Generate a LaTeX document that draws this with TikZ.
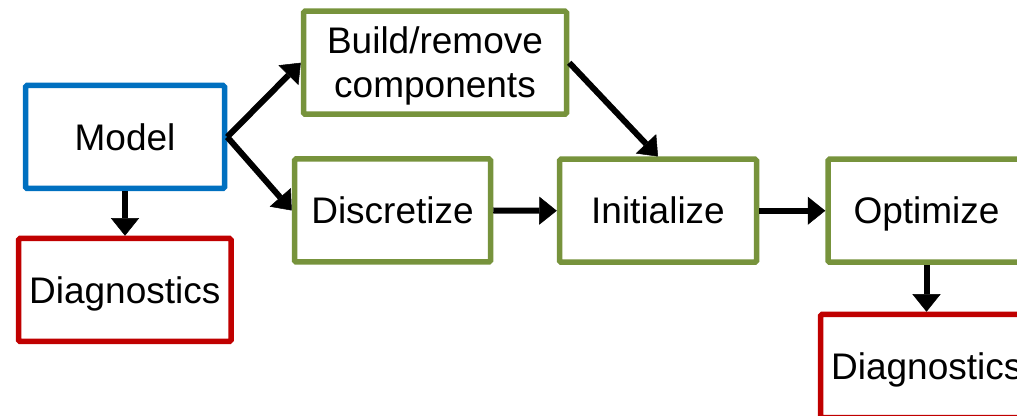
\documentclass[tikz,border=0pt]{standalone}
\usepackage{fontspec}
\setmainfont{Liberation Sans}
\usetikzlibrary{arrows.meta}
\definecolor{modelblue}{HTML}{0070C0}
\definecolor{stepgreen}{HTML}{77933C}
\definecolor{diagred}{HTML}{C00000}
\begin{document}
\begin{tikzpicture}[x=1pt,y=1pt,
  box/.style={draw, line width=5.5pt, rounded corners=1.5pt, inner sep=0pt,
    minimum height=103pt, fill=white,
    font=\fontsize{37pt}{44pt}\selectfont, text height=26.5pt, text depth=0pt},
  modelbox/.style={box, draw=modelblue},
  stepbox/.style={box, draw=stepgreen},
  diagbox/.style={box, draw=diagred},
  flow/.style={line width=6pt, -{Triangle[length=17.5pt,width=28pt,line width=0.5pt]}}
]
\useasboundingbox (0,0) rectangle (1017,415);
\clip (0,0) rectangle (1017,415);

% boxes
\node[modelbox, minimum width=199pt] (model) at (125,278) {Model};
\node[diagbox, minimum width=212.5pt] (diag1) at (124.75,125) {Diagnostics};
\node[stepbox, minimum width=263pt, align=center, text height=70.5pt] (build) at (435,352.25) {Build/remove\\components};
\node[stepbox, minimum width=196pt] (disc) at (392.5,204.5) {Discretize};
\node[stepbox, minimum width=197pt] (init) at (658,204.25) {Initialize};
\node[stepbox, minimum width=197pt] (opt) at (926.5,204.25) {Optimize};
\node[diagbox, minimum width=212.5pt] (diag2) at (926.75,49) {Diagnostics};

% connectors
\draw[flow] (model.south) -- (model.south |- diag1.north);
\draw[flow] (model.east) -- (build.west);
\draw[flow] (model.east) -- (disc.west);
\draw[flow] (disc.east) -- (init.west);
\draw[flow] (build.east) -- (init.north);
\draw[flow] (init.east) -- (opt.west);
\draw[flow] (opt.south) -- (opt.south |- diag2.north);
\end{tikzpicture}
\end{document}
